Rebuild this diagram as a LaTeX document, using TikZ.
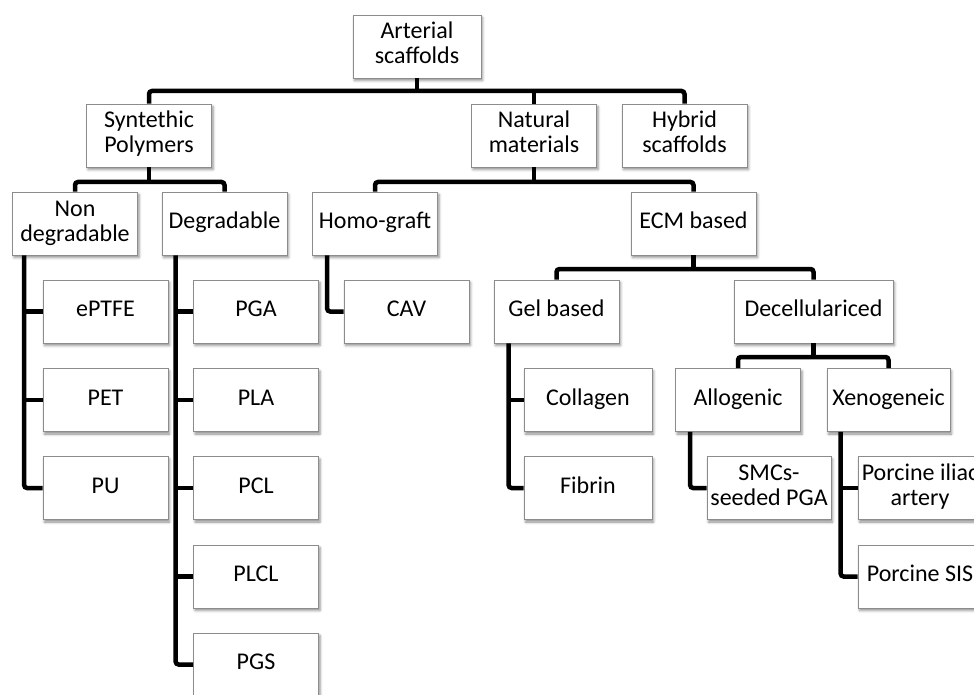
\documentclass[tikz,border=0pt]{standalone}
\usepackage{fontspec}
\setmainfont{Carlito}
\usetikzlibrary{shadows.blur}
\definecolor{boxgray}{HTML}{8C8C8C}
\begin{document}
\begin{tikzpicture}[x=1pt,y=-1pt,
  box/.style={draw=boxgray, line width=0.8pt, fill=white, minimum width=125pt, minimum height=63pt,
    inner sep=1pt, align=center, font=\fontsize{24}{25}\selectfont,
    blur shadow={shadow xshift=1.5pt, shadow yshift=-2.5pt, shadow blur radius=2.5pt, shadow opacity=45}},
  conn/.style={line width=4.5pt, rounded corners=3pt, black}]
\useasboundingbox (0,0) rectangle (974,695);
\clip (0,0) rectangle (974,695);
% level 0-2
\node[box, minimum width=128pt] (art) at (417,46.5) {\strut Arterial\\\strut scaffolds};
\node[box] (syn) at (149,135.5) {\strut Syntethic\\\strut Polymers};
\node[box] (nat) at (534,135.5) {\strut Natural\\\strut materials};
\node[box] (hyb) at (684.5,135.5) {\strut Hybrid\\\strut scaffolds};
\node[box] (non) at (75,223.5) {\strut Non\\\strut degradable};
\node[box] (deg) at (224.5,223.5) {\strut Degradable};
\node[box] (homo) at (375,223.5) {\strut Homo-graft};
\node[box] (ecm) at (693.5,223.5) {\strut ECM based};
% leaves
\node[box] (eptfe) at (105.5,311.5) {\strut ePTFE};
\node[box] (pet) at (105.5,400) {\strut PET};
\node[box] (pu) at (105.5,488) {\strut PU};
\node[box] (pga) at (256,311.5) {\strut PGA};
\node[box] (pla) at (256,400) {\strut PLA};
\node[box] (pcl) at (256,488) {\strut PCL};
\node[box] (plcl) at (256,576.5) {\strut PLCL};
\node[box] (pgs) at (256,664.5) {\strut PGS};
\node[box] (cav) at (406.5,311.5) {\strut CAV};
\node[box] (gel) at (556.5,311.5) {\strut Gel based};
\node[box, minimum width=159pt] (dec) at (813.5,311.5) {\strut Decellulariced};
\node[box, minimum width=128pt] (col) at (588,400) {\strut Collagen};
\node[box, minimum width=128pt] (fib) at (588,488) {\strut Fibrin};
\node[box] (allo) at (738,400) {\strut Allogenic};
\node[box, minimum width=123pt] (xeno) at (888.5,400) {\strut Xenogeneic};
\node[box, minimum width=124pt] (smc) at (769,488) {\strut SMCs-\\\strut seeded PGA};
\node[box, minimum width=124pt] (pia) at (920,488) {\strut Porcine iliac\\\strut artery};
\node[box, minimum width=124pt] (sis) at (920,576.5) {\strut Porcine SIS};
% tree connectors
\coordinate (j1) at (417,91);
\draw[conn] (syn.north) |- (j1) -| (hyb.north);
\draw[conn] (art.south) -- (j1);
\draw[conn] (nat.north) -- (nat.north |- j1);
\coordinate (j2) at (149,182);
\draw[conn] (non.north) |- (j2) -| (deg.north);
\draw[conn] (syn.south) -- (j2);
\coordinate (j3) at (534,182);
\draw[conn] (homo.north) |- (j3) -| (ecm.north);
\draw[conn] (nat.south) -- (j3);
\coordinate (j4) at (693.5,269);
\draw[conn] (gel.north) |- (j4) -| (dec.north);
\draw[conn] (ecm.south) -- (j4);
\coordinate (j5) at (813.5,357);
\draw[conn] (allo.north) |- (j5) -| (xeno.north);
\draw[conn] (dec.south) -- (j5);
% side connectors
\coordinate (v1) at ([xshift=12pt]non.south west);
\draw[conn] (v1) |- (pu.west);
\draw[conn] (v1 |- eptfe.west) -- (eptfe.west);
\draw[conn] (v1 |- pet.west) -- (pet.west);
\coordinate (v2) at ([xshift=14pt]deg.south west);
\draw[conn] (v2) |- (pgs.west);
\draw[conn] (v2 |- pga.west) -- (pga.west);
\draw[conn] (v2 |- pla.west) -- (pla.west);
\draw[conn] (v2 |- pcl.west) -- (pcl.west);
\draw[conn] (v2 |- plcl.west) -- (plcl.west);
\coordinate (v3) at ([xshift=15pt]homo.south west);
\draw[conn] (v3) |- (cav.west);
\coordinate (v4) at ([xshift=15pt]gel.south west);
\draw[conn] (v4) |- (fib.west);
\draw[conn] (v4 |- col.west) -- (col.west);
\coordinate (v5) at ([xshift=15pt]allo.south west);
\draw[conn] (v5) |- (smc.west);
\coordinate (v6) at ([xshift=14pt]xeno.south west);
\draw[conn] (v6) |- (sis.west);
\draw[conn] (v6 |- pia.west) -- (pia.west);
\end{tikzpicture}
\end{document}
